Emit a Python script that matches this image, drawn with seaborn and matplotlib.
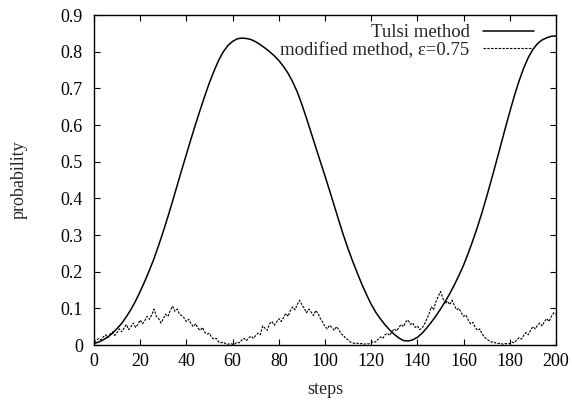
import numpy as np
import pandas as pd
import matplotlib
matplotlib.use("Agg")
import matplotlib.pyplot as plt
import seaborn as sns

# ---------------- data ----------------
tulsi_steps = list(range(0, 201, 2))
tulsi_prob = [
    0.004, 0.008, 0.014, 0.022, 0.032, 0.045, 0.059, 0.077, 0.097, 0.120,   # 0-18
    0.146, 0.174, 0.204, 0.236, 0.272, 0.310, 0.350, 0.392, 0.435, 0.478,   # 20-38
    0.520, 0.562, 0.603, 0.642, 0.680, 0.716, 0.748, 0.777, 0.800, 0.817,   # 40-58
    0.828, 0.835, 0.837, 0.836, 0.833, 0.827, 0.819, 0.810, 0.800, 0.789,   # 60-78
    0.776, 0.760, 0.741, 0.718, 0.690, 0.656, 0.618, 0.579, 0.539, 0.500,   # 80-98
    0.461, 0.421, 0.380, 0.339, 0.299, 0.262, 0.228, 0.196, 0.165, 0.137,   # 100-118
    0.111, 0.089, 0.071, 0.055, 0.041, 0.029, 0.019, 0.012, 0.011, 0.014,   # 120-138
    0.021, 0.032, 0.046, 0.062, 0.079, 0.098, 0.118, 0.140, 0.164, 0.190,   # 140-158
    0.218, 0.250, 0.285, 0.322, 0.362, 0.405, 0.450, 0.496, 0.543, 0.590,   # 160-178
    0.636, 0.680, 0.720, 0.755, 0.784, 0.806, 0.822, 0.832, 0.838, 0.842,   # 180-198
    0.843,                                                                   # 200
]

mod_steps = list(range(0, 201))
mod_prob = [
    0.008, 0.012, 0.018, 0.014, 0.022, 0.028, 0.020, 0.030, 0.036, 0.026,
    0.034, 0.044, 0.036, 0.046, 0.056, 0.042, 0.050, 0.060, 0.048, 0.056,
    0.068, 0.058, 0.066, 0.078, 0.070, 0.082, 0.098, 0.078, 0.072, 0.060,
    0.072, 0.084, 0.078, 0.094, 0.106, 0.092, 0.098, 0.084, 0.080, 0.074,
    0.064, 0.070, 0.058, 0.050, 0.058, 0.046, 0.040, 0.048, 0.034, 0.030,
    0.032, 0.020, 0.016, 0.018, 0.008, 0.006, 0.008, 0.003, 0.002, 0.004,
    0.002, 0.003, 0.008, 0.006, 0.014, 0.018, 0.012, 0.020, 0.024, 0.018,
    0.026, 0.032, 0.028, 0.052, 0.046, 0.040, 0.058, 0.064, 0.054, 0.062,
    0.072, 0.064, 0.074, 0.086, 0.078, 0.094, 0.104, 0.096, 0.110, 0.122,
    0.110, 0.100, 0.088, 0.098, 0.090, 0.080, 0.094, 0.086, 0.072, 0.062,
    0.050, 0.044, 0.054, 0.048, 0.040, 0.050, 0.042, 0.030, 0.026, 0.018,
    0.014, 0.008, 0.006, 0.004, 0.005, 0.003, 0.004, 0.002, 0.004, 0.003,
    0.006, 0.010, 0.008, 0.016, 0.022, 0.018, 0.028, 0.032, 0.026, 0.036,
    0.044, 0.038, 0.048, 0.056, 0.050, 0.064, 0.068, 0.056, 0.060, 0.048,
    0.052, 0.042, 0.046, 0.056, 0.070, 0.084, 0.104, 0.096, 0.118, 0.132,
    0.146, 0.128, 0.112, 0.120, 0.110, 0.122, 0.108, 0.096, 0.100, 0.088,
    0.078, 0.082, 0.068, 0.058, 0.062, 0.048, 0.040, 0.044, 0.030, 0.022,
    0.016, 0.012, 0.008, 0.009, 0.005, 0.004, 0.005, 0.002, 0.004, 0.003,
    0.004, 0.008, 0.006, 0.014, 0.020, 0.016, 0.026, 0.034, 0.028, 0.040,
    0.050, 0.044, 0.054, 0.060, 0.052, 0.064, 0.072, 0.064, 0.078, 0.088,
    0.084,
]

x_ticks = [0, 20, 40, 60, 80, 100, 120, 140, 160, 180, 200]
y_ticks = [0, 0.1, 0.2, 0.3, 0.4, 0.5, 0.6, 0.7, 0.8, 0.9]
y_tick_labels = ["0", "0.1", "0.2", "0.3", "0.4", "0.5", "0.6", "0.7", "0.8", "0.9"]

label_tulsi = "Tulsi method"
label_mod = "modified method, \u03b5=0.75"

# ---------------- style ----------------
sns.set_style("ticks")
plt.rcParams["font.family"] = ["Liberation Serif", "DejaVu Serif"]
FS = 13
plt.rcParams["font.size"] = FS

fig = plt.figure(figsize=(5.72, 4.0), dpi=100)
ax = fig.add_axes([94 / 572, 55 / 400, 462 / 572, 330 / 400])

df_t = pd.DataFrame({"steps": tulsi_steps, "prob": tulsi_prob})
df_m = pd.DataFrame({"steps": mod_steps, "prob": mod_prob})

sns.lineplot(data=df_t, x="steps", y="prob", ax=ax, color="black",
             linewidth=1.1, label=label_tulsi)
sns.lineplot(data=df_m, x="steps", y="prob", ax=ax, color="black",
             linewidth=0.8, label=label_mod)
ax.lines[1].set_dashes((2.2, 1.2))

ax.set_xlim(0, 200)
ax.set_ylim(0, 0.9)
ax.set_xticks(x_ticks)
ax.set_xticklabels([str(t) for t in x_ticks])
ax.set_yticks(y_ticks)
ax.set_yticklabels(y_tick_labels)
ax.tick_params(direction="in", length=4, width=0.8, top=True, right=True,
               labelsize=FS, colors="black")
ax.tick_params(axis="x", pad=6)
ax.tick_params(axis="y", pad=8)
for s in ax.spines.values():
    s.set_linewidth(1.0)
    s.set_color("black")
    s.set_visible(True)

ax.set_xlabel("steps", fontsize=FS, labelpad=8)
ax.set_ylabel("probability", fontsize=FS, labelpad=24)

leg = ax.legend(loc="upper right", bbox_to_anchor=(0.952, 0.972),
                frameon=False, markerfirst=False, fontsize=13.5,
                handlelength=2.7, handletextpad=0.72, labelspacing=0.02,
                borderpad=0, borderaxespad=0)

fig.savefig("out.png", dpi=100)
